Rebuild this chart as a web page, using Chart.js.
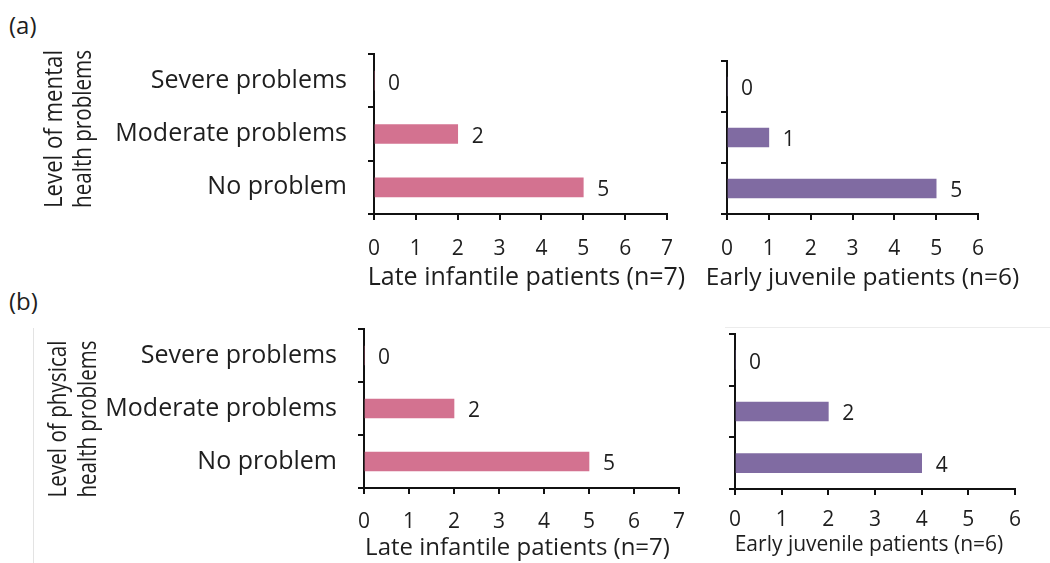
<!DOCTYPE html>
<html>
<head>
<meta charset="utf-8">
<title>Mental and physical health problems by patient group</title>
<script src="https://cdn.jsdelivr.net/npm/chart.js@4.4.0/dist/chart.umd.min.js"></script>
<style>
  html, body { margin: 0; padding: 0; background: #fff; }
  #page { position: relative; width: 1050px; height: 563px; overflow: hidden;
          font-family: 'Open Sans', sans-serif; color: #1e1e1e; }
  canvas { position: absolute; }
  .tag { position: absolute; font-size: 24px; line-height: 24px; }
  .frame-v { position: absolute; left: 33px; top: 328px; height: 235px; border-left: 1px solid #e3e3e3; }
  .frame-h { position: absolute; left: 725px; top: 327px; width: 325px; border-top: 1px solid #ececec; }
</style>
</head>
<body>
<div id="page">
  <div class="tag" style="left:9px; top:13px;">(a)</div>
  <div class="tag" style="left:9px; top:289px;">(b)</div>
  <div class="frame-v"></div>
  <div class="frame-h"></div>
  <canvas id="mentalLate" width="700" height="296" style="left:0; top:0;"></canvas>
  <canvas id="mentalEarly" width="350" height="296" style="left:700px; top:0;"></canvas>
  <canvas id="physicalLate" width="700" height="273" style="left:0; top:290px;"></canvas>
  <canvas id="physicalEarly" width="350" height="273" style="left:700px; top:290px;"></canvas>
</div>
<script>
// Problem levels, listed top to bottom
const categories = ['Severe problems', 'Moderate problems', 'No problem'];

// Number of patients at each level
const mentalLateInfantile   = [0, 2, 5];
const mentalEarlyJuvenile   = [0, 1, 5];
const physicalLateInfantile = [0, 2, 5];
const physicalEarlyJuvenile = [0, 2, 4];

// Axis ranges (group sizes) and titles
const lateMax  = 7;
const earlyMax = 6;
const lateTitle  = 'Late infantile patients (n=7)';
const earlyTitle = 'Early juvenile patients (n=6)';
const mentalTitle   = ['Level of mental', 'health problems'];
const physicalTitle = ['Level of physical', 'health problems'];

const INK = '#1e1e1e';
const AXIS = '#111111';
const PINK = '#D37290';
const PURPLE = '#806BA2';
const FONT = "'Open Sans', sans-serif";

Chart.defaults.font.family = FONT;
Chart.defaults.color = INK;

// Writes each bar's value just past its end
const valueLabels = {
  id: 'valueLabels',
  afterDatasetsDraw(chart) {
    const o = chart.options.plugins.valueLabels;
    const ctx = chart.ctx;
    ctx.save();
    ctx.font = o.size + 'px ' + FONT;
    ctx.fillStyle = INK;
    ctx.textAlign = 'left';
    ctx.textBaseline = 'middle';
    chart.data.datasets.forEach((ds, i) => {
      chart.getDatasetMeta(i).data.forEach((bar, j) => {
        ctx.fillText(String(ds.data[j]), bar.x + o.gap, bar.y + o.shift);
      });
    });
    ctx.restore();
  }
};

// Axis captions: one under the value axis, and an optional rotated
// two-line caption to the left of the category labels
const captions = {
  id: 'captions',
  afterDraw(chart) {
    const o = chart.options.plugins.captions;
    const area = chart.chartArea;
    const ctx = chart.ctx;
    ctx.save();
    ctx.fillStyle = INK;
    ctx.textAlign = 'center';
    ctx.textBaseline = 'middle';
    ctx.font = o.bottom.size + 'px ' + FONT;
    ctx.fillText(o.bottom.text, (area.left + area.right) / 2 + o.bottom.dx, area.bottom + o.bottom.dy);
    if (o.side) {
      const s = o.side;
      ctx.font = s.size + 'px ' + FONT;
      ctx.translate(s.x, s.y);
      ctx.rotate(-Math.PI / 2);
      s.text.forEach((line, i) => ctx.fillText(line, 0, i * s.gap, s.maxWidth));
    }
    ctx.restore();
  }
};

function panel(id, values, color, cfg) {
  const axisGrid = {
    drawOnChartArea: false, drawTicks: true, tickLength: 6,
    color: AXIS, lineWidth: 2
  };
  return new Chart(document.getElementById(id), {
    type: 'bar',
    data: {
      labels: categories,
      datasets: [{ data: values, backgroundColor: color, borderWidth: 0, barThickness: 19 }]
    },
    options: {
      indexAxis: 'y',
      responsive: false,
      animation: false,
      events: [],
      layout: { padding: { left: 0, top: cfg.top, right: cfg.right, bottom: 0 } },
      plugins: {
        legend: { display: false },
        tooltip: { enabled: false },
        valueLabels: { size: 21, gap: 14, shift: 3 },
        captions: { bottom: cfg.bottom, side: cfg.side }
      },
      scales: {
        x: {
          type: 'linear', min: 0, max: cfg.max,
          ticks: { stepSize: 1, padding: cfg.tickPad, color: INK, font: { size: 21 } },
          grid: axisGrid,
          border: { display: true, color: AXIS, width: 2 },
          afterFit(s) { s.height = cfg.xHeight; }
        },
        y: {
          type: 'category', offset: true,
          ticks: { display: cfg.showLabels, padding: 21, color: INK, font: { size: 25 } },
          grid: Object.assign({ offset: true }, axisGrid),
          border: { display: true, color: AXIS, width: 2 },
          afterFit(s) { s.width = cfg.yWidth; }
        }
      }
    },
    plugins: [valueLabels, captions]
  });
}

// (a) mental health
panel('mentalLate', mentalLateInfantile, PINK, {
  max: lateMax, showLabels: true,
  bottom: { text: lateTitle, size: 25, dx: 6, dy: 64 },
  side: { text: mentalTitle, size: 25, x: 55, y: 129, gap: 29, maxWidth: 158 },
  top: 54, right: 33, yWidth: 374, xHeight: 82, tickPad: 16
});
panel('mentalEarly', mentalEarlyJuvenile, PURPLE, {
  max: earlyMax, showLabels: false,
  bottom: { text: earlyTitle, size: 24.5, dx: 10, dy: 64 },
  top: 61, right: 72, yWidth: 27, xHeight: 82, tickPad: 16
});

// (b) physical health
panel('physicalLate', physicalLateInfantile, PINK, {
  max: lateMax, showLabels: true,
  bottom: { text: lateTitle, size: 24, dx: -4, dy: 60 },
  side: { text: physicalTitle, size: 25, x: 59, y: 129, gap: 30, maxWidth: 157 },
  top: 39, right: 21, yWidth: 364, xHeight: 75, tickPad: 15
});
panel('physicalEarly', physicalEarlyJuvenile, PURPLE, {
  max: earlyMax, showLabels: false,
  bottom: { text: earlyTitle, size: 21, dx: -6, dy: 56 },
  top: 44, right: 35, yWidth: 35, xHeight: 74, tickPad: 12
});
</script>
</body>
</html>
